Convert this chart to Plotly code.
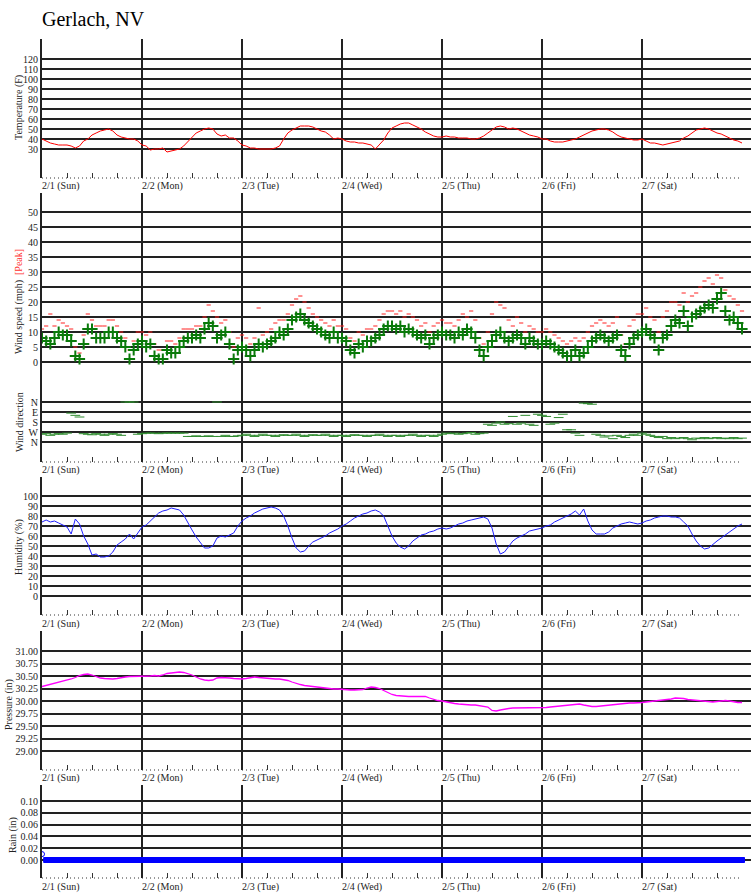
import plotly.graph_objects as go

W, H = 751, 895
FONT = "Liberation Serif, Times New Roman, serif"

# ---------------- data (hourly readings, hour 0 = 2/1 00:00) ----------------
day_labels = ["2/1 (Sun)", "2/2 (Mon)", "2/3 (Tue)", "2/4 (Wed)", "2/5 (Thu)", "2/6 (Fri)", "2/7 (Sat)"]
day_hours = [0, 24, 48, 72, 96, 120, 144]

temp_f = [
    40, 38, 36, 35, 34, 34, 34, 33, 31, 33, 38, 40, 44, 46, 48, 49, 50, 48, 44, 42, 41, 40, 40, 38,
    34, 33, 29, 30, 30, 31, 27, 28, 29, 30, 33, 37, 42, 46, 48, 50, 51, 50, 45, 43, 44, 41, 41, 38,
    34, 33, 31, 31, 30, 30, 30, 30, 31, 33, 40, 46, 49, 51, 53, 53, 53, 52, 50, 48, 47, 44, 40, 41,
    40, 38, 37, 37, 36, 36, 35, 34, 30, 35, 39, 46, 51, 53, 55, 56, 56, 54, 52, 50, 47, 45, 43, 42,
    42, 43, 42, 42, 41, 41, 41, 40, 40, 41, 43, 46, 49, 52, 53, 52, 50, 51, 50, 48, 46, 44, 43, 42,
    40, 40, 38, 37, 37, 37, 38, 39, 40, 42, 44, 46, 48, 49, 50, 50, 49, 47, 44, 42, 41, 40, 39, 39,
    40, 38, 36, 36, 35, 34, 35, 36, 37, 38, 41, 43, 46, 49, 50, 51, 50, 48, 46, 45, 43, 41, 39, 38, 36,
]

wind_mph = [
    8, 7, 6, 8, 10, 9, 9, 7, 2, 1, 6, 11, 11, 8, 8, 8, 10, 10, 8, 7, 5, 1, 4, 6,
    7, 5, 6, 2, 1, 1, 4, 3, 3, 5, 7, 8, 8, 9, 8, 11, 13, 12, 8, 9, 10, 6, 1, 4,
    5, 4, 2, 4, 6, 5, 6, 7, 8, 10, 9, 11, 14, 15, 16, 14, 13, 12, 11, 10, 9, 8, 10, 8,
    8, 7, 4, 3, 6, 5, 7, 7, 8, 9, 11, 12, 12, 11, 12, 10, 11, 10, 9, 8, 9, 6, 8, 9,
    10, 9, 9, 8, 10, 9, 11, 10, 8, 4, 2, 5, 7, 9, 10, 8, 7, 8, 9, 8, 6, 8, 7, 6,
    6, 7, 6, 5, 4, 3, 2, 2, 4, 2, 3, 5, 7, 8, 9, 8, 7, 8, 9, 4, 2, 6, 8, 9,
    10, 11, 9, 8, 4, 8, 9, 12, 14, 13, 17, 12, 15, 16, 17, 18, 19, 18, 21, 23, 17, 14, 15, 13, 11,
]

peak_mph = [
    11, 12, 16, 12, 14, 13, 12, 11, 5, 3, 9, 16, 14, 12, 12, 12, 14, 14, 12, 10, 8, 4, 7, 10,
    10, 9, 10, 6, 4, 4, 7, 7, 6, 8, 11, 11, 11, 12, 12, 15, 19, 17, 15, 13, 14, 10, 5, 8,
    9, 8, 6, 8, 18, 9, 10, 11, 13, 14, 14, 16, 19, 21, 22, 20, 18, 16, 15, 14, 13, 12, 14, 12,
    12, 11, 8, 7, 10, 9, 11, 11, 12, 14, 16, 17, 17, 16, 17, 15, 16, 15, 14, 12, 13, 10, 12, 13,
    14, 13, 13, 12, 14, 16, 15, 17, 14, 8, 6, 10, 16, 20, 19, 18, 14, 12, 15, 13, 10, 12, 11, 10,
    10, 11, 10, 9, 8, 7, 6, 7, 8, 7, 8, 10, 12, 13, 14, 13, 12, 13, 15, 9, 6, 12, 14, 16,
    16, 18, 15, 14, 10, 15, 17, 20, 20, 19, 23, 20, 22, 23, 25, 27, 28, 26, 29, 28, 24, 22, 21, 19, 17,
]

wind_dir_deg = [
    290, 285, 300, 290, 285, 290, 280, 100, 120, 135, 285, 290, 295, 285, 290, 300, 290, 285, 290, 300, 0, 0, 0, 290,
    285, 280, 280, 280, 285, 280, 280, 280, 280, 280, 280, 310, 310, 305, 310, 310, 305, 310, 0, 310, 300, 310, 310, 305,
    300, 290, 300, 310, 300, 290, 300, 300, 310, 300, 295, 300, 300, 290, 300, 310, 300, 295, 300, 300, 290, 300, 310, 300,
    300, 310, 300, 295, 300, 300, 310, 300, 300, 290, 300, 310, 300, 300, 310, 300, 300, 290, 300, 310, 300, 300, 310, 300,
    290, 280, 285, 280, 290, 285, 280, 275, 290, 285, 280, 200, 210, 190, 180, 200, 195, 130, 200, 190, 120, 200, 210, 110,
    120, 130, 200, 190, 140, 110, 250, 250, 280, 300, 10, 15, 20, 290, 300, 315, 305, 330, 300, 310, 320, 300, 290, 300,
    280, 290, 300, 310, 320, 310, 330, 320, 330, 325, 320, 330, 340, 325, 330, 320, 330, 325, 320, 330, 325, 330, 320, 330, 325,
]

humidity_pct = [
    74, 76, 74, 75, 73, 71, 69, 62, 77, 72, 60, 52, 41, 42, 39, 39, 40, 44, 51, 54, 57, 62, 57, 63,
    69, 71, 75, 78, 83, 85, 86, 88, 87, 86, 81, 73, 66, 59, 53, 48, 48, 50, 58, 60, 59, 61, 63, 70,
    75, 78, 80, 83, 85, 87, 88, 89, 88, 86, 80, 70, 58, 48, 44, 45, 50, 54, 56, 58, 60, 63, 65, 67,
    70, 72, 75, 78, 80, 82, 83, 85, 86, 84, 80, 70, 60, 53, 49, 47, 50, 55, 58, 61, 62, 64, 65, 67,
    68, 67, 68, 70, 72, 73, 75, 76, 77, 78, 79, 77, 68, 52, 42, 44, 50, 55, 58, 60, 62, 65, 66, 67,
    68, 70, 71, 74, 76, 78, 80, 82, 85, 81, 87, 75, 66, 62, 62, 62, 64, 68, 70, 72, 73, 74, 73, 72,
    73, 75, 76, 78, 79, 80, 80, 79, 79, 78, 74, 70, 62, 55, 50, 47, 48, 52, 55, 58, 61, 64, 67, 70, 72,
]

pressure_in = [
    30.29, 30.31, 30.33, 30.35, 30.37, 30.39, 30.42, 30.44, 30.47, 30.51, 30.53, 30.54,
    30.52, 30.49, 30.46, 30.45, 30.44, 30.44, 30.45, 30.47, 30.48, 30.49, 30.49, 30.50,
    30.50, 30.50, 30.50, 30.51, 30.50, 30.52, 30.55, 30.56, 30.57, 30.58, 30.57, 30.55,
    30.52, 30.48, 30.44, 30.42, 30.41, 30.42, 30.46, 30.47, 30.47, 30.46, 30.45, 30.44,
    30.44, 30.45, 30.47, 30.48, 30.47, 30.46, 30.45, 30.45, 30.44, 30.44, 30.43, 30.41,
    30.38, 30.35, 30.33, 30.31, 30.30, 30.28, 30.27, 30.26, 30.25, 30.25, 30.24, 30.24,
    30.23, 30.22, 30.22, 30.22, 30.22, 30.23, 30.26, 30.28, 30.27, 30.25, 30.21, 30.17,
    30.13, 30.11, 30.10, 30.10, 30.09, 30.09, 30.09, 30.10, 30.09, 30.06, 30.03, 30.01,
    30.00, 29.98, 29.96, 29.95, 29.94, 29.93, 29.93, 29.92, 29.92, 29.91, 29.90, 29.88,
    29.81, 29.80, 29.82, 29.84, 29.85, 29.86, 29.86, 29.87, 29.87, 29.86, 29.86, 29.86,
    29.86, 29.87, 29.88, 29.89, 29.90, 29.91, 29.92, 29.93, 29.94, 29.94, 29.92, 29.90,
    29.89, 29.89, 29.90, 29.91, 29.92, 29.93, 29.94, 29.95, 29.96, 29.96, 29.96, 29.96,
    29.97, 29.98, 29.99, 30.00, 30.00, 30.01, 30.02, 30.04, 30.06, 30.06, 30.05, 30.03,
    30.02, 30.01, 30.00, 29.99, 29.98, 29.98, 29.99, 30.00, 30.01, 30.00, 29.98, 29.97, 29.97,
]

rain_in = [
    0.01, 0.00, 0.00, 0.00, 0.00, 0.00, 0.00, 0.00, 0.00, 0.00, 0.00, 0.00, 0.00, 0.00, 0.00, 0.00, 0.00,
    0.00, 0.00, 0.00, 0.00, 0.00, 0.00, 0.00, 0.00, 0.00, 0.00, 0.00, 0.00, 0.00, 0.00, 0.00, 0.00,
    0.00, 0.00, 0.00, 0.00, 0.00, 0.00, 0.00, 0.00, 0.00, 0.00, 0.00, 0.00, 0.00, 0.00, 0.00, 0.00,
    0.00, 0.00, 0.00, 0.00, 0.00, 0.00, 0.00, 0.00, 0.00, 0.00, 0.00, 0.00, 0.00, 0.00, 0.00, 0.00,
    0.00, 0.00, 0.00, 0.00, 0.00, 0.00, 0.00, 0.00, 0.00, 0.00, 0.00, 0.00, 0.00, 0.00, 0.00, 0.00,
    0.00, 0.00, 0.00, 0.00, 0.00, 0.00, 0.00, 0.00, 0.00, 0.00, 0.00, 0.00, 0.00, 0.00, 0.00, 0.00,
    0.00, 0.00, 0.00, 0.00, 0.00, 0.00, 0.00, 0.00, 0.00, 0.00, 0.00, 0.00, 0.00, 0.00, 0.00, 0.00,
    0.00, 0.00, 0.00, 0.00, 0.00, 0.00, 0.00, 0.00, 0.00, 0.00, 0.00, 0.00, 0.00, 0.00, 0.00, 0.00,
    0.00, 0.00, 0.00, 0.00, 0.00, 0.00, 0.00, 0.00, 0.00, 0.00, 0.00, 0.00, 0.00, 0.00, 0.00, 0.00,
    0.00, 0.00, 0.00, 0.00, 0.00, 0.00, 0.00, 0.00, 0.00, 0.00, 0.00, 0.00, 0.00, 0.00, 0.00, 0.00,
    0.00, 0.00, 0.00, 0.00, 0.00, 0.00, 0.00, 0.00,
]

temp_ticks = [30, 40, 50, 60, 70, 80, 90, 100, 110, 120]
wind_ticks = [0, 5, 10, 15, 20, 25, 30, 35, 40, 45, 50]
dir_ticks = [0, 90, 180, 270, 360]
dir_labels = ["N", "E", "S", "W", "N"]
hum_ticks = [0, 10, 20, 30, 40, 50, 60, 70, 80, 90, 100]
pres_ticks = [29.00, 29.25, 29.50, 29.75, 30.00, 30.25, 30.50, 30.75, 31.00]
rain_ticks = [0.00, 0.02, 0.04, 0.06, 0.08, 0.10]

for arr in (temp_f, wind_mph, peak_mph, wind_dir_deg, humidity_pct, pressure_in, rain_in):
    assert len(arr) == 169, len(arr)

hours = list(range(len(temp_f)))

# ---------------- layout helpers ----------------
def py(p):
    return 1 - p / H

X0 = 42 / W
XRANGE = [0, 709 * 24 / 100]
GRID = "#222222"
TXT = "#222222"
minor_vals = [d * 24 + h for d in range(7) for h in (6, 12, 18)]

fig = go.Figure()

fig.add_trace(go.Scatter(x=hours, y=temp_f, mode="lines", line=dict(color="#ff0000", width=1),
                         xaxis="x", yaxis="y"))
fig.add_trace(go.Scatter(x=hours, y=peak_mph, mode="markers",
                         marker=dict(symbol="line-ew", size=3, line=dict(color="#ff2020", width=1)),
                         xaxis="x2", yaxis="y2"))
fig.add_trace(go.Scatter(x=hours, y=wind_mph, mode="markers",
                         marker=dict(symbol="cross-thin", size=8, line=dict(color="#0a7a0a", width=2)),
                         xaxis="x2", yaxis="y2"))
fig.add_trace(go.Scatter(x=hours, y=wind_dir_deg, mode="markers",
                         marker=dict(symbol="line-ew", size=7, line=dict(color="#2e8b2e", width=1)),
                         xaxis="x3", yaxis="y3"))
fig.add_trace(go.Scatter(x=hours, y=humidity_pct, mode="lines", line=dict(color="#2020ff", width=1),
                         xaxis="x4", yaxis="y4"))
fig.add_trace(go.Scatter(x=hours, y=pressure_in, mode="lines", line=dict(color="#ff00ff", width=1.3),
                         xaxis="x5", yaxis="y5"))
rain_sym = ["circle-open" if v > 0 else "square" for v in rain_in]
fig.add_trace(go.Scatter(x=hours, y=rain_in, mode="markers",
                         marker=dict(symbol=rain_sym, size=5, color="#0000ff",
                                     line=dict(color="#0000ff", width=1)),
                         xaxis="x6", yaxis="y6"))

# panels: (index, top px, bottom px, range, tickvals, ticktext, has_bottom_axis, label_y)
panels = [
    (1, 39, 178, [1, 140], temp_ticks, [str(t) for t in temp_ticks], True, 186),
    (2, 193, 382, [-20 / 3, 169 / 3], wind_ticks, [str(t) for t in wind_ticks], False, None),
    (3, 382, 462, [540, -180], dir_ticks, dir_labels, True, 470),
    (4, 477, 615, [-19, 119], hum_ticks, [str(t) for t in hum_ticks], True, 624),
    (5, 631, 770, [28.62, 31.4], pres_ticks, ["%.2f" % t for t in pres_ticks], True, 778),
    (6, 785, 878, [-18 / 590, 0.1 + 16 / 590], rain_ticks, ["%.2f" % t for t in rain_ticks], True, 887),
]

layout = dict(
    width=W, height=H, margin=dict(l=0, r=0, t=0, b=0),
    paper_bgcolor="white", plot_bgcolor="white", showlegend=False,
    font=dict(family=FONT, size=10, color=TXT),
)
shapes = []
annotations = []

for idx, top, bot, yr, tv, tt, has_axis, label_y in panels:
    sx = "" if idx == 1 else str(idx)
    xa = dict(domain=[X0, 1], range=XRANGE, anchor="y" + sx, tickmode="array", tickvals=day_hours,
              showticklabels=False, showgrid=True, gridcolor=GRID, gridwidth=2, zeroline=False,
              showline=False, ticks="", fixedrange=True)
    if has_axis:
        xa["minor"] = dict(tickmode="array", tickvals=minor_vals, ticks="inside", ticklen=5,
                           tickcolor="#333333", tickwidth=1, showgrid=False)
        shapes.append(dict(type="line", xref="x" + sx, yref="y" + sx + " domain",
                           x0=0, x1=167.5, y0=0, y1=0,
                           line=dict(color="#333333", width=1, dash="1px,3px")))
        for dh, lab in zip(day_hours, day_labels):
            annotations.append(dict(text=lab, x=dh, xref="x" + sx, y=py(label_y), yref="paper",
                                    xanchor="left", yanchor="middle", showarrow=False,
                                    font=dict(family=FONT, size=10, color=TXT), xshift=-2))
    ya = dict(domain=[py(bot), py(top)], range=yr, anchor="x" + sx, tickmode="array",
              tickvals=tv, ticktext=tt, showgrid=True, gridcolor=GRID, gridwidth=2,
              zeroline=False, showline=True, linecolor=GRID, linewidth=2, ticks="",
              tickfont=dict(family=FONT, size=10, color=TXT), fixedrange=True)
    layout["xaxis" + sx] = xa
    layout["yaxis" + sx] = ya

# title
annotations.append(dict(text="Gerlach, NV", x=42 / W, y=py(19), xref="paper", yref="paper",
                        xanchor="left", yanchor="middle", showarrow=False, xshift=-2,
                        font=dict(family=FONT, size=20, color="#000000")))

# y-axis titles
ytitles = [
    ("Temperature (F)", 19, 108),
    ("Wind speed (mph)  <span style='color:#ff3030'>[Peak]</span>", 19, 302),
    ("Wind direction", 19, 422),
    ("Humidity (%)", 19, 547),
    ("Pressure (in)", 9, 705),
    ("Rain (in)", 13, 835),
]
for txt, xp, yp in ytitles:
    annotations.append(dict(text=txt, x=xp / W, y=py(yp), xref="paper", yref="paper",
                            xanchor="center", yanchor="middle", textangle=-90, showarrow=False,
                            font=dict(family=FONT, size=10, color=TXT)))

layout["shapes"] = shapes
layout["annotations"] = annotations
fig.update_layout(**layout)
fig.write_html("out.html", config={"displayModeBar": False, "staticPlot": True},
               post_script="document.body.style.margin='0px';document.body.style.padding='0px';")
